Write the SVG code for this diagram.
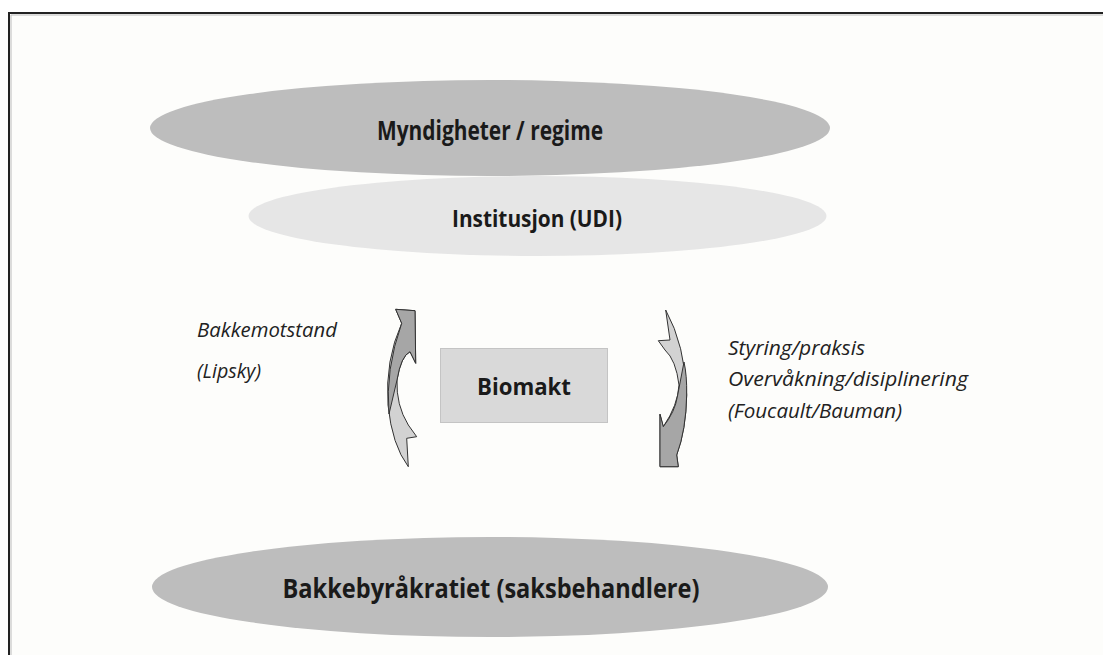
<svg xmlns="http://www.w3.org/2000/svg" width="1103" height="655" viewBox="0 0 1103 655">
<style>
.title{font-family:"Open Sans","Liberation Sans",sans-serif;font-weight:bold;fill:#1a1a1a;text-anchor:middle}
.note{font-family:"Open Sans","Liberation Sans",sans-serif;font-style:italic;fill:#222;font-size:20px}
.dark{fill:#a6a6a6;stroke:#333;stroke-width:1}
.light{fill:#d2d2d2;stroke:#333;stroke-width:1}
</style>
<rect x="0" y="0" width="1103" height="655" fill="#ffffff"/>
<rect x="9" y="13" width="1110" height="660" fill="#fdfdfb" stroke="#222" stroke-width="2"/>
<line x1="11" y1="15" x2="1103" y2="15" stroke="#bbb" stroke-width="1"/>
<line x1="11" y1="15" x2="11" y2="655" stroke="#bbb" stroke-width="1"/>
<g id="myndigheter">
<ellipse cx="490" cy="128" rx="340" ry="48" fill="#bdbdbd"/>
<text class="title" x="490" y="140" font-size="26" textLength="226" lengthAdjust="spacingAndGlyphs">Myndigheter / regime</text>
</g>
<g id="institusjon">
<ellipse cx="537.5" cy="216" rx="289" ry="40" fill="#e6e6e6"/>
<text class="title" x="537" y="227" font-size="24" textLength="170" lengthAdjust="spacingAndGlyphs">Institusjon (UDI)</text>
</g>
<g id="biomakt">
<rect x="440.5" y="348.5" width="167" height="74" fill="#d9d9d9" stroke="#c4c4c4" stroke-width="1"/>
<text class="title" x="524" y="395" font-size="24" textLength="94" lengthAdjust="spacingAndGlyphs">Biomakt</text>
</g>
<g id="bakkebyrakratiet">
<ellipse cx="490" cy="587" rx="338" ry="50" fill="#bdbdbd"/>
<text class="title" x="491" y="598" font-size="26" textLength="417" lengthAdjust="spacingAndGlyphs">Bakkebyråkratiet (saksbehandlere)</text>
</g>
<g id="connectors">
<g id="arrow-up">
<path class="light" d="M395.7,309.3 L415,310.7 L415.7,363.3 L410,351.7 Q401,356 397,380 Q396,405 408.3,425 L416.7,436.7 L406.7,438.3 L408.3,466.7 Q392,445 388,405 Q385,360 401.7,323.3 Z"/>
<path class="dark" d="M395.7,309.3 L415,310.7 L415.7,363.3 L410,351.7 Q401,356 397,380 L389,414 Q385,370 401.7,323.3 Z"/>
</g>
<g id="arrow-down">
<path class="light" d="M665.7,310 Q685,345 686.7,395 Q686,430 676.7,455 L678.3,466.7 L660,466.7 L660,414.3 L663.3,426.7 Q678,405 679,385 Q676,360 665,350 L658.3,340.7 L670,340 Z"/>
<path class="dark" d="M684,362 Q687,375 686.7,395 Q686,430 676.7,455 L678.3,466.7 L660,466.7 L660,414.3 L663.3,426.7 Q675,412 677.5,396 Z"/>
</g>
</g>
<g id="labels">
<text class="note" x="197" y="337" textLength="140" lengthAdjust="spacingAndGlyphs">Bakkemotstand</text>
<text class="note" x="197" y="378" textLength="64" lengthAdjust="spacingAndGlyphs">(Lipsky)</text>
<text class="note" x="728" y="355" textLength="137" lengthAdjust="spacingAndGlyphs">Styring/praksis</text>
<text class="note" x="728" y="386" textLength="240" lengthAdjust="spacingAndGlyphs">Overvåkning/disiplinering</text>
<text class="note" x="728" y="418" textLength="174" lengthAdjust="spacingAndGlyphs">(Foucault/Bauman)</text>
</g>
</svg>
